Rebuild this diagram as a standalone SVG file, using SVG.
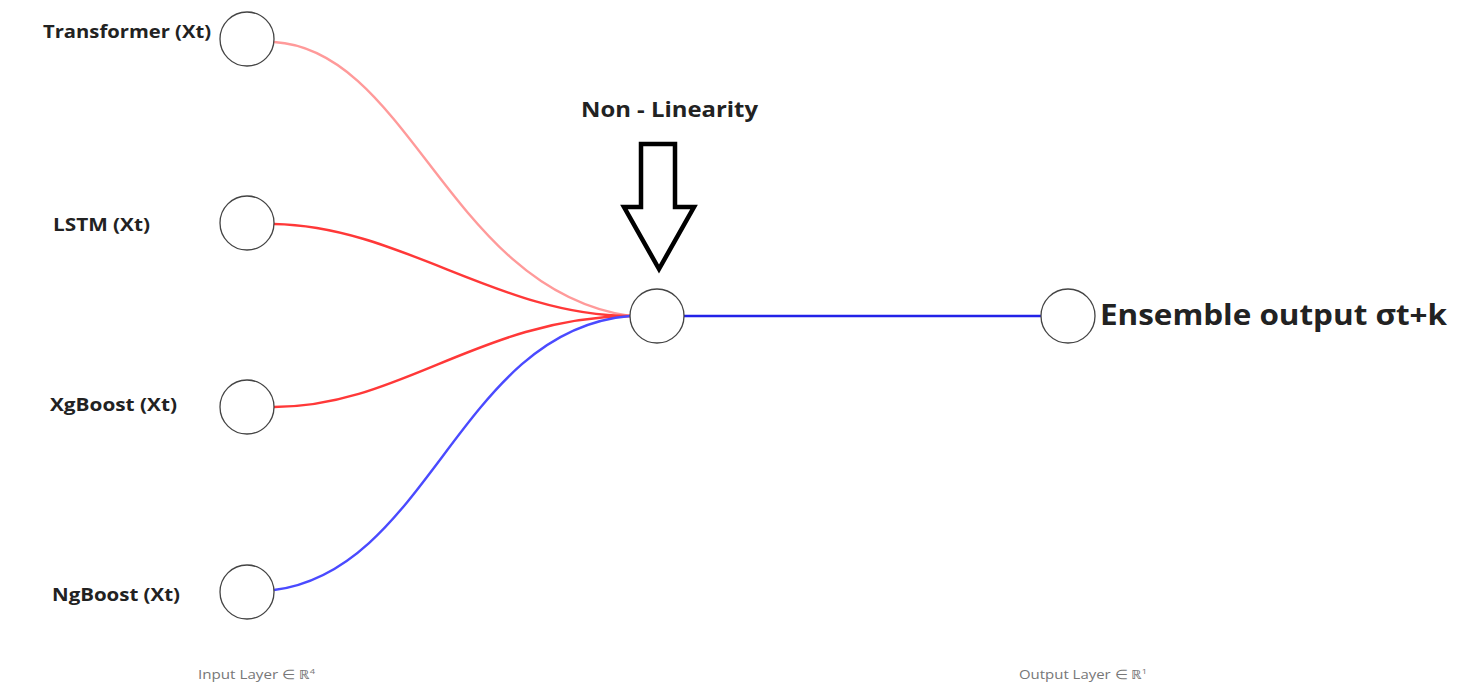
<svg xmlns="http://www.w3.org/2000/svg" width="1469" height="690" viewBox="0 0 1469 690">
<style>
.node{fill:#fff;stroke:#444;stroke-width:1.3}
.lbl{font-family:"Open Sans","Noto Sans",sans-serif;font-weight:bold;font-size:18px;fill:#222;text-anchor:middle}
.cap{font-family:"Open Sans","Noto Sans",sans-serif;font-size:13px;fill:#777}
.c{fill:none;stroke-width:2.4}
</style>
<rect width="1469" height="690" fill="#fff"/>
<g id="connectors">
<path class="c" stroke="#ff9a9a" d="M274,42 C410,50 450,290 630,316"/>
<path class="c" stroke="#ff3838" d="M274,224 C400,226 500,316 630,316"/>
<path class="c" stroke="#ff3838" d="M274,407 C400,407 480,318 630,316"/>
<path class="c" stroke="#4a4aff" d="M274,590 C430,570 460,330 630,316"/>
<path class="c" stroke="#2222e8" d="M684,316 L1041,316"/>
</g>
<g id="n-transformer"><circle class="node" cx="247" cy="39" r="27"/><text class="lbl" x="127" y="38" textLength="168" lengthAdjust="spacingAndGlyphs">Transformer (Xt)</text></g>
<g id="n-lstm"><circle class="node" cx="247" cy="223" r="27"/><text class="lbl" x="101.5" y="231" textLength="97" lengthAdjust="spacingAndGlyphs">LSTM (Xt)</text></g>
<g id="n-xgboost"><circle class="node" cx="247" cy="407" r="27"/><text class="lbl" x="113.5" y="411" textLength="127" lengthAdjust="spacingAndGlyphs">XgBoost (Xt)</text></g>
<g id="n-ngboost"><circle class="node" cx="247" cy="592" r="27"/><text class="lbl" x="116" y="601" textLength="128" lengthAdjust="spacingAndGlyphs">NgBoost (Xt)</text></g>
<g id="n-hidden"><circle class="node" cx="657" cy="316" r="27"/></g>
<g id="n-output"><circle class="node" cx="1068" cy="316" r="27"/><text x="1100" y="325" font-family="'Open Sans','Noto Sans',sans-serif" font-weight="bold" font-size="28" fill="#222" textLength="347" lengthAdjust="spacingAndGlyphs">Ensemble output σt+k</text></g>
<g id="nonlinearity">
<text class="lbl" x="669.5" y="117" style="font-size:22px" textLength="177" lengthAdjust="spacingAndGlyphs">Non - Linearity</text>
<path d="M641,144 L675,144 L675,207 L694,207 L659,269 L624,207 L641,207 Z" fill="none" stroke="#000" stroke-width="4.5" stroke-linejoin="miter"/>
</g>
<text class="cap" x="198" y="679" textLength="117" lengthAdjust="spacingAndGlyphs">Input Layer ∈ ℝ<tspan font-size="8" dy="-5">4</tspan></text>
<text class="cap" x="1019" y="679" textLength="128" lengthAdjust="spacingAndGlyphs">Output Layer ∈ ℝ<tspan font-size="8" dy="-5">1</tspan></text>
</svg>
